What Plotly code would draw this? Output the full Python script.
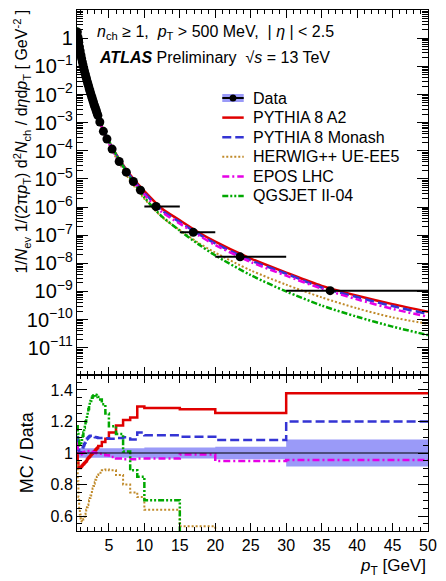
import plotly.graph_objects as go
from plotly.subplots import make_subplots

# ---------------- data ----------------
bin_edges = [0.5, 0.6, 0.7, 0.8, 0.9, 1.0, 1.1, 1.2, 1.3, 1.4, 1.5, 1.6, 1.7, 1.8, 1.9,
             2.0, 2.1, 2.2, 2.3, 2.4, 2.5, 2.6, 2.7, 2.8, 2.9, 3.0, 3.1, 3.2, 3.3, 3.4,
             3.5, 4.0, 4.5, 5.0, 6.0, 7.0, 8.0, 9.0, 10.0, 15.0, 20.0, 30.0, 50.0]
pt_center = [0.55, 0.65, 0.75, 0.85, 0.95, 1.05, 1.15, 1.25, 1.35, 1.45, 1.55, 1.65, 1.75,
             1.85, 1.95, 2.05, 2.15, 2.25, 2.35, 2.45, 2.55, 2.65, 2.75, 2.85, 2.95, 3.05,
             3.15, 3.25, 3.35, 3.45, 3.72, 4.22, 4.72, 5.45, 6.45, 7.45, 8.45, 9.45,
             11.65, 16.9, 23.5, 36.2]
data_val = [1.66, 1.07, 0.716, 0.495, 0.355, 0.257, 0.191, 0.145, 0.112, 0.0871,
            0.0692, 0.0550, 0.0437, 0.0355, 0.0288, 0.0234, 0.0191, 0.0155, 0.0129, 0.0105,
            0.00871, 0.00724, 0.00603, 0.00501, 0.00417, 0.00355, 0.00295, 0.00251, 0.00209, 0.00178,
            1.05e-3, 4.90e-4, 2.63e-4, 1.15e-4, 4.17e-5, 1.74e-5, 8.13e-6, 3.98e-6,
            1.05e-6, 1.26e-7, 1.70e-8, 1.07e-9]
data_relerr = [0.035, 0.035, 0.03, 0.03, 0.03, 0.03, 0.03, 0.03, 0.03, 0.03,
               0.03, 0.03, 0.03, 0.03, 0.03, 0.03, 0.03, 0.03, 0.03, 0.03,
               0.03, 0.03, 0.03, 0.03, 0.03, 0.03, 0.03, 0.03, 0.03, 0.03,
               0.03, 0.03, 0.03, 0.03, 0.03, 0.03, 0.03, 0.03,
               0.035, 0.035, 0.04, 0.085]

# MC / Data ratios per bin
ratio_pythia_a2 = [1.00, 0.94, 0.91, 0.905, 0.905, 0.91, 0.915, 0.92, 0.925, 0.93,
                   0.935, 0.94, 0.945, 0.95, 0.958, 0.965, 0.97, 0.975, 0.98, 0.985,
                   0.99, 0.995, 1.0, 1.005, 1.01, 1.015, 1.02, 1.025, 1.03, 1.035,
                   1.045, 1.07, 1.09, 1.13, 1.175, 1.21, 1.225, 1.295,
                   1.285, 1.277, 1.254, 1.38]
ratio_monash = [1.10, 1.05, 1.02, 1.005, 1.0, 1.005, 1.015, 1.025, 1.035, 1.045,
                1.055, 1.065, 1.075, 1.085, 1.09, 1.095, 1.10, 1.105, 1.108, 1.11,
                1.11, 1.11, 1.108, 1.105, 1.105, 1.102, 1.10, 1.10, 1.098, 1.097,
                1.095, 1.095, 1.093, 1.09, 1.095, 1.10, 1.085, 1.13,
                1.112, 1.103, 1.082, 1.20]
ratio_herwig = [0.95, 0.82, 0.72, 0.65, 0.61, 0.585, 0.57, 0.565, 0.57, 0.58,
                0.595, 0.61, 0.625, 0.64, 0.655, 0.67, 0.685, 0.70, 0.715, 0.73,
                0.745, 0.76, 0.775, 0.79, 0.805, 0.815, 0.83, 0.84, 0.85, 0.86,
                0.875, 0.89, 0.895, 0.89, 0.86, 0.80, 0.75, 0.72,
                0.64, 0.535, 0.45, 0.44]
ratio_epos = [1.06, 1.02, 1.0, 0.99, 0.99, 0.99, 0.995, 1.0, 1.0, 1.005,
              1.005, 1.008, 1.01, 1.01, 1.012, 1.012, 1.012, 1.012, 1.01, 1.01,
              1.008, 1.006, 1.005, 1.004, 1.003, 1.002, 1.0, 1.0, 0.998, 0.997,
              0.995, 0.99, 0.985, 0.975, 0.965, 0.96, 0.96, 0.965,
              0.965, 0.99, 0.95, 0.955]
ratio_qgsjet = [1.17, 1.12, 1.08, 1.06, 1.05, 1.05, 1.07, 1.09, 1.11, 1.13,
                1.16, 1.18, 1.20, 1.22, 1.24, 1.26, 1.28, 1.30, 1.32, 1.33,
                1.34, 1.35, 1.36, 1.365, 1.37, 1.37, 1.37, 1.365, 1.36, 1.355,
                1.34, 1.31, 1.25, 1.17, 1.12, 1.01, 0.89, 0.85,
                0.70, 0.45, 0.42, 0.40]

# MC spectra (upper panel) sampled at these pT values
pt_mc = [0.5, 1, 1.5, 2, 3, 4, 5, 6, 8, 10, 12.5, 15, 17.5, 20, 25, 30, 35, 40, 45, 50]
mc_pythia_a2 = [2.09, 0.275, 0.0575, 0.0251, 3.89e-3, 7.33e-4, 2.14e-4, 7.76e-5, 1.40e-5, 3.67e-6,
                8.71e-7, 3.39e-7, 1.33e-7, 5.89e-8, 1.48e-8, 4.68e-9, 1.58e-9, 7.08e-10, 3.55e-10, 1.91e-10]
mc_monash = [2.29, 0.302, 0.0646, 0.0285, 4.27e-3, 7.59e-4, 2.09e-4, 7.24e-5, 1.26e-5, 3.20e-6,
             7.50e-7, 2.92e-7, 1.15e-7, 5.07e-8, 1.27e-8, 4.27e-9, 1.38e-9, 6.31e-10, 3.02e-10, 1.58e-10]
mc_herwig = [2.00, 0.178, 0.0367, 0.0176, 3.13e-3, 6.17e-4, 1.70e-4, 5.69e-5, 8.61e-6, 1.97e-6,
             4.37e-7, 1.51e-7, 5.62e-8, 2.40e-8, 5.62e-9, 1.74e-9, 6.17e-10, 2.51e-10, 1.20e-10, 7.08e-11]
mc_epos = [2.21, 0.299, 0.0619, 0.0263, 3.85e-3, 6.86e-4, 1.87e-4, 6.38e-5, 1.10e-5, 2.75e-6,
           6.53e-7, 2.57e-7, 1.04e-7, 4.47e-8, 1.12e-8, 3.63e-9, 1.26e-9, 5.25e-10, 2.40e-10, 1.26e-10]
mc_qgsjet = [2.45, 0.316, 0.0708, 0.0324, 5.25e-3, 9.12e-4, 2.29e-4, 7.41e-5, 1.10e-5, 2.21e-6,
             4.57e-7, 1.45e-7, 5.01e-8, 1.91e-8, 3.80e-9, 1.00e-9, 3.16e-10, 1.26e-10, 5.62e-11, 2.82e-11]

legend_labels = ["Data", "PYTHIA 8 A2", "PYTHIA 8 Monash", "HERWIG++ UE-EE5", "EPOS LHC", "QGSJET II-04"]

FONT = "Liberation Sans, Arial, Helvetica, sans-serif"
BAND = "rgba(120,120,245,0.75)"

models = [
    (legend_labels[1], mc_pythia_a2, ratio_pythia_a2, "#e00000", "solid", 2.5),
    (legend_labels[2], mc_monash, ratio_monash, "#3434d4", "9px,4px", 2.5),
    (legend_labels[3], mc_herwig, ratio_herwig, "#c08a2a", "2px,2px", 2),
    (legend_labels[4], mc_epos, ratio_epos, "#e600e6", "7px,3px,2px,3px", 2.5),
    (legend_labels[5], mc_qgsjet, ratio_qgsjet, "#00a800", "6px,2px,2px,2px,2px,2px", 2.5),
]

fig = make_subplots(rows=2, cols=1, shared_xaxes=True, vertical_spacing=0,
                    row_heights=[0.7006, 0.2994])

# ---------------- ratio panel ----------------
lo = bin_edges[:-1]
hi = bin_edges[1:]
band_up = [1 + e for e in data_relerr] + [1 + data_relerr[-1]]
band_dn = [1 - e for e in data_relerr] + [1 - data_relerr[-1]]
fig.add_trace(go.Scatter(x=bin_edges, y=band_dn, mode="lines", line=dict(width=0, shape="hv"),
                         showlegend=False, hoverinfo="skip"), row=2, col=1)
fig.add_trace(go.Scatter(x=bin_edges, y=band_up, mode="lines", line=dict(width=0, shape="hv"),
                         fill="tonexty", fillcolor=BAND,
                         showlegend=False, hoverinfo="skip"), row=2, col=1)
fig.add_hline(y=1, line=dict(color="black", width=1), row=2, col=1)

for name, mc, ratio, color, dash, w in models:
    fig.add_trace(go.Scatter(x=bin_edges, y=ratio + [ratio[-1]], mode="lines",
                             line=dict(color=color, dash=dash, width=w, shape="hv"),
                             showlegend=False), row=2, col=1)

# ---------------- spectrum panel ----------------
for name, mc, ratio, color, dash, w in models:
    fig.add_trace(go.Scatter(x=pt_mc, y=mc, mode="lines", name=name, showlegend=False,
                             line=dict(color=color, dash=dash, width=w, shape="spline",
                                       smoothing=0.8)), row=1, col=1)

err_plus = [h - c for h, c in zip(hi, pt_center)]
err_minus = [c - l for l, c in zip(lo, pt_center)]
fig.add_trace(go.Scatter(x=pt_center, y=data_val, mode="markers", name=legend_labels[0],
                         showlegend=False,
                         marker=dict(color="black", size=9),
                         error_x=dict(type="data", symmetric=False, array=err_plus,
                                      arrayminus=err_minus, width=0, thickness=2,
                                      color="black")), row=1, col=1)

common_x = dict(range=[0.5, 50], dtick=5, tick0=0, ticks="inside", ticklen=8,
                tickcolor="black", mirror="allticks", showline=True, linecolor="black",
                linewidth=1, showgrid=False, zeroline=False,
                minor=dict(dtick=1, ticklen=4, ticks="inside", tickcolor="black"),
                tickfont=dict(family=FONT, size=16, color="black"))
fig.update_xaxes(**common_x)
fig.update_xaxes(showticklabels=False, row=1, col=1)
fig.update_xaxes(showticklabels=True, row=2, col=1)

fig.update_yaxes(type="log", range=[-11.97, 1.004], dtick=1, exponentformat="power",
                 ticks="inside", ticklen=11, tickcolor="black", mirror="allticks",
                 showline=True, linecolor="black", linewidth=1, showgrid=False,
                 zeroline=False,
                 minor=dict(ticks="inside", ticklen=6, tickcolor="black", dtick="D1"),
                 tickfont=dict(family=FONT, size=16, color="black"), row=1, col=1)
fig.update_yaxes(range=[0.505, 1.495], dtick=0.2, tick0=0, ticks="inside", ticklen=10,
                 tickcolor="black", mirror="allticks", showline=True, linecolor="black",
                 linewidth=1, showgrid=False, zeroline=False,
                 minor=dict(dtick=0.05, ticklen=5, ticks="inside", tickcolor="black"),
                 tickfont=dict(family=FONT, size=16, color="black"), row=2, col=1)

# ---------------- ROOT-style legend (text + line samples in paper coords) ----------------
L, T, PW, PH = 77, 10, 360, 521  # plot-area pixel geometry


def px(xp):
    return (xp - L) / PW


def py(yp):
    return 1 - (yp - T) / PH


leg_x0, leg_x1, leg_text_x = 226, 248, 255
leg_rows = [98, 117.6, 137.2, 156.8, 176.4, 196]
shapes = []
annotations = []
# Data entry: band box + black line + marker
shapes.append(dict(type="rect", xref="paper", yref="paper",
                   x0=px(leg_x0), x1=px(leg_x1), y0=py(leg_rows[0] + 4), y1=py(leg_rows[0] - 4),
                   fillcolor=BAND, line=dict(width=0)))
shapes.append(dict(type="line", xref="paper", yref="paper",
                   x0=px(leg_x0), x1=px(leg_x1), y0=py(leg_rows[0]), y1=py(leg_rows[0]),
                   line=dict(color="black", width=2)))
shapes.append(dict(type="circle", xref="paper", yref="paper",
                   x0=px(237 - 3.5), x1=px(237 + 3.5), y0=py(leg_rows[0] + 3.5), y1=py(leg_rows[0] - 3.5),
                   fillcolor="black", line=dict(width=0)))
for (name, mc, ratio, color, dash, w), yr in zip(models, leg_rows[1:]):
    shapes.append(dict(type="line", xref="paper", yref="paper",
                       x0=px(leg_x0), x1=px(leg_x1), y0=py(yr), y1=py(yr),
                       line=dict(color=color, width=w, dash=dash)))
for lab, yr in zip(legend_labels, leg_rows):
    annotations.append(dict(text=lab, x=px(leg_text_x), y=py(yr), xref="paper", yref="paper",
                            xanchor="left", yanchor="middle", showarrow=False,
                            font=dict(family=FONT, size=16, color="black")))

ann_font = dict(family=FONT, size=16, color="black")
annotations += [
    dict(text="<i>n</i><sub>ch</sub> ≥ 1,  <i>p</i><sub>T</sub> > 500 MeV,  | <i>η</i> | < 2.5",
         x=0.05, y=0.956, xref="paper", yref="paper", xanchor="left", yanchor="middle",
         showarrow=False, font=ann_font),
    dict(text="<b><i>ATLAS</i></b> Preliminary  √<i>s</i> = 13 TeV",
         x=0.056, y=0.908, xref="paper", yref="paper", xanchor="left", yanchor="middle",
         showarrow=False, font=ann_font),
    # rotated y title, anchored by its top end (near the top of the plot)
    dict(text="1/<i>N</i><sub>ev</sub> 1/(2π<i>p</i><sub>T</sub>) d<sup>2</sup><i>N</i><sub>ch</sub> / d<i>η</i>d<i>p</i><sub>T</sub> [ GeV<sup>-2</sup> ]",
         x=-0.158, y=1.0, yshift=2, xref="paper", yref="paper", xanchor="center", yanchor="top",
         textangle=-90, showarrow=False, font=dict(family=FONT, size=16, color="black")),
    dict(text="MC / Data", x=-0.142, y=0.1516, xref="paper", yref="paper",
         xanchor="center", yanchor="middle", textangle=-90, showarrow=False,
         font=dict(family=FONT, size=18, color="black")),
    dict(text="<i>p</i><sub>T</sub> [GeV]", x=1.0, y=0, xref="paper", yref="paper",
         xanchor="right", yanchor="middle", yshift=-36, showarrow=False,
         font=dict(family=FONT, size=17, color="black")),
]

fig.update_layout(
    width=446, height=581,
    margin=dict(l=77, r=9, t=10, b=50),
    paper_bgcolor="white", plot_bgcolor="white",
    font=dict(family=FONT, color="black"),
    showlegend=False,
    shapes=fig.layout.shapes + tuple(shapes),
    annotations=annotations,
)

fig.write_html("out.html")
